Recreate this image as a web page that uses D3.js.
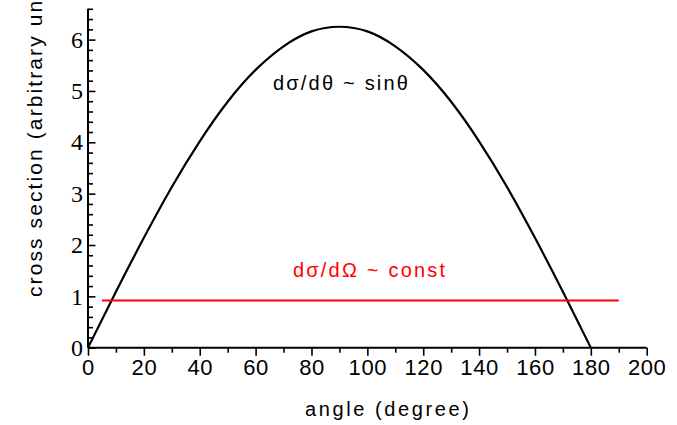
<!DOCTYPE html>
<html>
<head>
<meta charset="utf-8">
<script src="https://cdn.jsdelivr.net/npm/d3@7"></script>
<style>
  html, body { margin: 0; padding: 0; background: #fff; }
  svg { display: block; }
</style>
</head>
<body>
<svg id="chart" width="677" height="425"></svg>
<script>
// Angular distribution: dσ/dθ (black curve) and dσ/dΩ (red flat line)
const angles = [0, 10, 20, 30, 40, 50, 60, 70, 80, 90, 100, 110, 120, 130, 140, 150, 160, 170, 180];
const dSigmaDTheta = [0, 1.09, 2.14, 3.13, 4.02, 4.79, 5.41, 5.87, 6.16, 6.25, 6.16, 5.87, 5.41, 4.79, 4.02, 3.13, 2.14, 1.09, 0];
const constAngles = [5, 190];
const constValues = [0.92, 0.92];
const xTickValues = [0, 20, 40, 60, 80, 100, 120, 140, 160, 180, 200];
const yTickValues = [0, 1, 2, 3, 4, 5, 6];

const svg = d3.select("#chart");

const x = d3.scaleLinear().domain([0, 200]).range([88, 646.7]);
const y = d3.scaleLinear().domain([0, 6.6]).range([347.7, 8.8]);

// x axis: outward ticks, majors every 20, minors every 10
const xMinor = d3.axisBottom(x).tickValues(d3.range(10, 200, 20)).tickSize(5).tickFormat("");
const xAxis = d3.axisBottom(x).tickValues(xTickValues).tickSize(8).tickPadding(4).tickFormat(d3.format("d"));

const gxMinor = svg.append("g").attr("transform", `translate(0,${y(0)})`).call(xMinor);
gxMinor.select(".domain").remove();
gxMinor.selectAll("line").attr("stroke", "#000").attr("stroke-width", 1.6);

const gx = svg.append("g").attr("transform", `translate(0,${y(0)})`).call(xAxis);
gx.select(".domain").attr("stroke", "#000").attr("stroke-width", 2).attr("d", `M${x(0)},0H${x(200)}`);
gx.selectAll(".tick line").attr("stroke", "#000").attr("stroke-width", 1.6);
gx.selectAll(".tick text")
  .attr("font-family", "'Liberation Sans', Arial, sans-serif")
  .attr("font-size", 22)
  .attr("letter-spacing", "0.6px")
  .attr("fill", "#000");

// y axis: inward ticks, majors every 1, minors every 0.2
const yMinorVals = d3.range(1, 34).map(i => +(i * 0.2).toFixed(1)).filter(v => Math.abs(v - Math.round(v)) > 1e-6);
const yMinor = d3.axisRight(y).tickValues(yMinorVals).tickSize(5).tickFormat("");
const yAxis = d3.axisLeft(y).tickValues(yTickValues).tickSize(0).tickPadding(5).tickFormat(d3.format("d"));

const gyMinor = svg.append("g").attr("transform", `translate(${x(0)},0)`).call(yMinor);
gyMinor.select(".domain").remove();
gyMinor.selectAll("line").attr("stroke", "#000").attr("stroke-width", 1.6);

const gyMajor = svg.append("g").attr("transform", `translate(${x(0)},0)`)
  .call(d3.axisRight(y).tickValues(yTickValues).tickSize(7.5).tickFormat(""));
gyMajor.select(".domain").remove();
gyMajor.selectAll("line").attr("stroke", "#000").attr("stroke-width", 1.6);

const gy = svg.append("g").attr("transform", `translate(${x(0)},0)`).call(yAxis);
gy.select(".domain").attr("stroke", "#000").attr("stroke-width", 2).attr("d", `M0,${y(6.6)}V${y(0)}`);
gy.selectAll(".tick text")
  .attr("font-family", "'Liberation Serif', 'Times New Roman', serif")
  .attr("font-size", 24)
  .attr("fill", "#000");

// axis titles
svg.append("text")
  .attr("x", 305).attr("y", 416)
  .attr("font-family", "'Liberation Sans', Arial, sans-serif")
  .attr("font-size", 20)
  .attr("letter-spacing", "2.6px")
  .attr("fill", "#000")
  .text("angle (degree)");

svg.append("text")
  .attr("transform", "translate(42,297) rotate(-90)")
  .attr("font-family", "'Liberation Sans', Arial, sans-serif")
  .attr("font-size", 21)
  .attr("letter-spacing", "2.1px")
  .attr("fill", "#000")
  .text("cross section (arbitrary units)");

// data series
const line = d3.line().x(d => x(d[0])).y(d => y(d[1]));

svg.append("path")
  .datum(d3.zip(angles, dSigmaDTheta))
  .attr("d", line.curve(d3.curveNatural))
  .attr("fill", "none")
  .attr("stroke", "#000")
  .attr("stroke-width", 2.2);

svg.append("path")
  .datum(d3.zip(constAngles, constValues))
  .attr("d", d3.line().x(d => x(d[0])).y(d => y(d[1])))
  .attr("fill", "none")
  .attr("stroke", "#ff0000")
  .attr("stroke-width", 2);

// series annotations
svg.append("text")
  .attr("x", 273).attr("y", 89.5)
  .attr("font-family", "'Liberation Sans', Arial, sans-serif")
  .attr("font-size", 20)
  .attr("letter-spacing", "2.2px")
  .attr("fill", "#000")
  .text("dσ/dθ ~ sinθ");

svg.append("text")
  .attr("x", 293).attr("y", 277)
  .attr("font-family", "'Liberation Sans', Arial, sans-serif")
  .attr("font-size", 20)
  .attr("letter-spacing", "2.2px")
  .attr("fill", "#ff0000")
  .text("dσ/dΩ ~ const");
</script>
</body>
</html>
